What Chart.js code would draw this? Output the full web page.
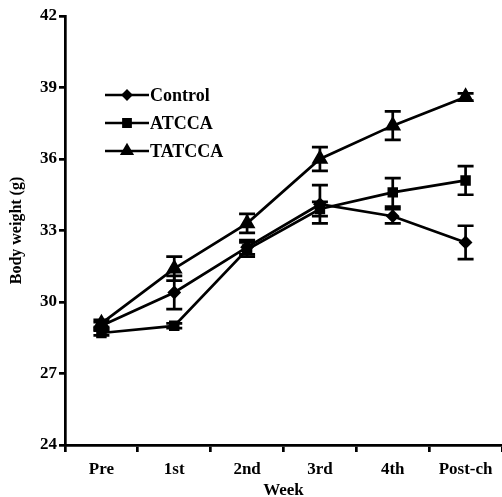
<!DOCTYPE html>
<html>
<head>
<meta charset="utf-8">
<script src="https://cdn.jsdelivr.net/npm/chart.js@4.4.1/dist/chart.umd.min.js"></script>
<style>
  html, body { margin: 0; padding: 0; background: #fff; overflow: hidden; }
  canvas { display: block; }
</style>
</head>
<body>
<canvas id="chart" width="502" height="497"></canvas>
<script>
// data
const weeks = ['Pre', '1st', '2nd', '3rd', '4th', 'Post-ch'];
const controlMean = [29.0, 30.4, 32.3, 34.1, 33.6, 32.5];
const controlErr  = [0.15, 0.7, 0.3, 0.8, 0.3, 0.7];
const atccaMean   = [28.7, 29.0, 32.2, 33.9, 34.6, 35.1];
const atccaErr    = [0.1, 0.1, 0.3, 0.3, 0.6, 0.6];
const tatccaMean  = [29.1, 31.4, 33.3, 36.0, 37.4, 38.6];
const tatccaErr   = [0.15, 0.5, 0.4, 0.5, 0.6, 0.15];
const yTicks = [24, 27, 30, 33, 36, 39, 42];

const FONT = 'Liberation Serif';
const INK = '#000';

function series(label, data, err, style, size, legendSize) {
  return {
    label, data, err, legendSize,
    borderColor: INK, backgroundColor: INK,
    borderWidth: 2.7,
    pointStyle: style, pointRadius: size, pointHoverRadius: size,
    pointBackgroundColor: INK, pointBorderColor: INK,
    tension: 0,
  };
}

// error bars, drawn from each dataset's err array via the y scale
const errorBars = {
  id: 'errorBars',
  afterDatasetsDraw(chart) {
    const { ctx, scales: { y } } = chart;
    ctx.save();
    ctx.strokeStyle = INK;
    ctx.lineWidth = 2.7;
    chart.data.datasets.forEach((ds, i) => {
      chart.getDatasetMeta(i).data.forEach((pt, j) => {
        const e = ds.err[j];
        if (!e) return;
        const top = y.getPixelForValue(ds.data[j] + e);
        const bot = y.getPixelForValue(ds.data[j] - e);
        ctx.beginPath();
        ctx.moveTo(pt.x, top); ctx.lineTo(pt.x, bot);
        ctx.moveTo(pt.x - 8, top); ctx.lineTo(pt.x + 8, top);
        ctx.moveTo(pt.x - 8, bot); ctx.lineTo(pt.x + 8, bot);
        ctx.stroke();
      });
    });
    ctx.restore();
  }
};

// legend drawn inside the plot, upper left
const innerLegend = {
  id: 'innerLegend',
  afterDraw(chart) {
    const { ctx, chartArea } = chart;
    const x0 = chartArea.left + 40, x1 = chartArea.left + 84;
    ctx.save();
    ctx.font = `bold 18px "${FONT}"`;
    ctx.textBaseline = 'middle';
    ctx.fillStyle = INK;
    chart.data.datasets.forEach((ds, i) => {
      const yy = chartArea.top + 79 + i * 28;
      ctx.strokeStyle = INK;
      ctx.lineWidth = 2.7;
      ctx.beginPath(); ctx.moveTo(x0, yy); ctx.lineTo(x1, yy); ctx.stroke();
      Chart.helpers.drawPoint(ctx, { pointStyle: ds.pointStyle, radius: ds.legendSize, borderWidth: 1 }, (x0 + x1) / 2, yy);
      ctx.fillText(ds.label, x1 + 1, yy + 1);
    });
    ctx.restore();
  }
};

new Chart(document.getElementById('chart'), {
  type: 'line',
  data: {
    labels: weeks,
    datasets: [
      series('Control', controlMean, controlErr, 'rectRot', 5, 4),
      series('ATCCA', atccaMean, atccaErr, 'rect', 5.5, 5),
      series('TATCCA', tatccaMean, tatccaErr, 'triangle', 7, 5.5),
    ],
  },
  options: {
    responsive: false,
    animation: false,
    events: [],
    layout: { autoPadding: false, padding: { top: 16, right: 0, left: 0, bottom: 0 } },
    plugins: { legend: { display: false }, tooltip: { enabled: false } },
    scales: {
      x: {
        offset: true,
        border: { color: INK, width: 2.7 },
        grid: { offset: true, drawOnChartArea: false, color: INK, lineWidth: 2.7, tickLength: 7 },
        ticks: { color: INK, padding: 7, maxRotation: 0, font: { family: FONT, weight: 'bold', size: 17 } },
        title: { display: true, text: 'Week', color: INK, padding: { top: 0, bottom: -2 }, font: { family: FONT, weight: 'bold', size: 17, lineHeight: 1 } },
        afterFit: s => { s.height = 52; s.paddingRight = 0; s.paddingLeft = 0; },
      },
      y: {
        min: 24, max: 42,
        afterBuildTicks: s => { s.ticks = yTicks.map(v => ({ value: v })); },
        border: { color: INK, width: 2.7 },
        grid: { drawOnChartArea: false, color: INK, lineWidth: 2.7, tickLength: 6 },
        ticks: { color: INK, padding: 2, font: { family: FONT, weight: 'bold', size: 17 } },
        title: { display: true, text: 'Body weight (g)', color: INK, padding: { top: 9, bottom: 0 }, font: { family: FONT, weight: 'bold', size: 16, lineHeight: 1 } },
        afterFit: s => { s.width = 65; },
      },
    },
  },
  plugins: [errorBars, innerLegend],
});
</script>
</body>
</html>
